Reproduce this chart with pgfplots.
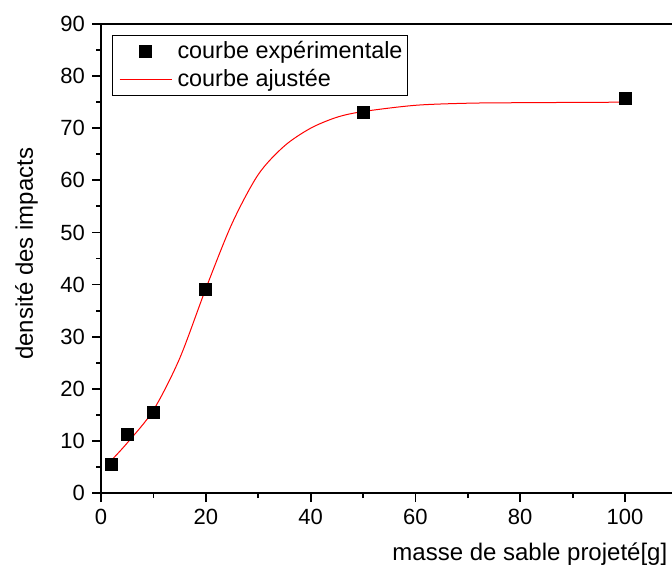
\documentclass[border=0pt]{standalone}
\usepackage{fontspec}
\setmainfont{Liberation Sans}
\usepackage{pgfplots}
\pgfplotsset{compat=1.18}
\pgfplotsset{
  legmark/.style={legend image code/.code={%
    \path[draw=none, fill=none] (0pt,0pt) -- (30pt,0pt);
    \draw[##1, only marks] plot coordinates {(15pt,0pt)};}},
  legline/.style={legend image code/.code={%
    \path[draw=none, fill=none] (0pt,0pt) -- (30pt,0pt);
    \draw[##1] (2pt,0pt) -- (28pt,0pt);}},
}
\begin{document}
\begin{tikzpicture}
\useasboundingbox (0,0) rectangle (336pt,283pt);
\begin{axis}[
  at={(50.5pt,36.5pt)}, anchor=south west,
  scale only axis, width=314.4pt, height=234.5pt,
  xmin=0, xmax=120, ymin=0, ymax=90,
  xtick={0,20,...,100}, ytick={0,10,...,90},
  minor x tick num=1, minor y tick num=1,
  xtick pos=left, ytick pos=left, tick align=outside,
  major tick length=4.5pt, minor tick length=2.5pt,
  every tick/.style={black, line width=0.9pt},
  axis line style={line width=1pt},
  /pgf/number format/assume math mode=true,
  tick label style={font=\fontsize{11}{13}\selectfont},
  label style={font=\fontsize{12}{14}\selectfont},
  xlabel={masse de sable projeté[g]},
  xlabel style={at={(axis description cs:0.682,0)}, anchor=base, yshift=-33.5pt},
  ylabel={densité des impacts},
  ylabel style={at={([xshift=-34pt]axis description cs:0,0.51)}, anchor=base},
  legend style={at={(axis description cs:0.0175,0.9765)}, anchor=north west,
    draw=black, line width=0.5pt, font=\fontsize{11.7}{14}\selectfont,
    inner xsep=1.5pt, inner ysep=1pt, row sep=0pt,
    nodes={inner xsep=1pt}},
  legend cell align=left,
]
\addplot[only marks, mark=square*, mark size=3pt, black, legmark] coordinates {
  (2,5.5) (5,11.2) (10,15.5) (20,39) (50,73) (100,75.7)};
\addlegendentry{courbe expérimentale}
\addplot[red, line width=0.5pt, smooth, legline] coordinates {
  (2,6.3) (5,9.6) (10,15.9) (15,25.8) (20,39.2) (25,51.7) (30,61.1)
  (35,66.6) (40,70.0) (45,72.1) (50,73.2) (60,74.4) (70,74.8)
  (80,74.9) (100,75.0)};
\addlegendentry{courbe ajustée}
\end{axis}
\end{tikzpicture}
\end{document}
